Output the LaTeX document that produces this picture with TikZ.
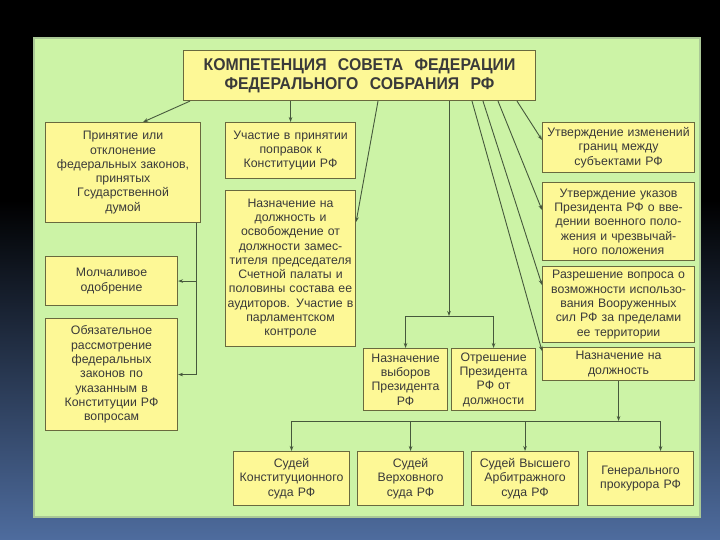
\documentclass[tikz,border=0pt]{standalone}
\usepackage{fontspec}
\setmainfont{Liberation Sans}
\newfontfamily\titlefont[FakeStretch=0.93]{Liberation Sans}
\usetikzlibrary{arrows.meta}
\definecolor{panel}{RGB}{204,243,166}
\definecolor{paneledge}{RGB}{170,200,150}
\definecolor{boxfill}{RGB}{253,248,150}
\definecolor{boxedge}{RGB}{105,105,62}
\definecolor{wire}{RGB}{70,88,60}
\definecolor{ink}{RGB}{58,58,58}
\definecolor{bgblue}{RGB}{78,108,158}
\tikzset{
  box/.style={draw=boxedge, fill=boxfill, line width=1.1pt, inner xsep=0pt, inner ysep=2pt,
    align=center, anchor=north west, text=ink, font=\fontsize{12.3}{14.3}\selectfont},
  arr/.style={draw=wire, line width=0.9pt, -{Stealth[length=5pt,width=3.6pt]}},
  ln/.style={draw=wire, line width=0.9pt}
}
\newcommand\mybox[6]{\node[box, minimum width=#4pt, minimum height=#5pt, text width=#4pt] (#1) at (#2,#3) {#6};}
\begin{document}
\begin{tikzpicture}[x=1pt,y=-1pt]
\useasboundingbox (0,0) rectangle (720,540);
\fill[black] (0,0) rectangle (720,540);
\shade[top color=black, bottom color=bgblue] (0,200) rectangle (720,540);
\fill[panel, draw=paneledge, line width=1.5pt] (34,38) rectangle (700,517);

\node[box, minimum width=352pt, minimum height=50pt, text width=352pt, font=\titlefont\fontsize{17}{18.5}\selectfont\bfseries] (title) at (183,50)
  {КОМПЕТЕНЦИЯ\ \ СОВЕТА\ \ ФЕДЕРАЦИИ\\ФЕДЕРАЛЬНОГО\ \ СОБРАНИЯ\ \ РФ};

\mybox{L1}{45}{122}{155}{100}{Принятие или\\отклонение\\федеральных законов,\\принятых\\Гсударственной\\думой}
\mybox{L2}{45}{256}{132}{49}{Молчаливое\\одобрение}
\mybox{L3}{45}{318}{132}{112}{Обязательное\\рассмотрение\\федеральных\\законов по\\указанным в\\Конституции РФ\\вопросам}

\mybox{M1}{225}{122}{130}{56}{Участие в принятии\\поправок к\\Конституции РФ}
\mybox{M2}{225}{190}{130}{156}{Назначение на\\должность и\\освобождение от\\должности замес-\\тителя председателя\\Счетной палаты и\\половины состава ее\\аудиторов. Участие в\\парламентском\\контроле}

\mybox{C1}{363}{348}{84}{62}{Назначение\\выборов\\Президента\\РФ}
\mybox{C2}{451}{348}{84}{62}{Отрешение\\Президента\\РФ от\\должности}

\mybox{R1}{542}{122}{152}{50}{Утверждение изменений\\границ между\\субъектами РФ}
\mybox{R2}{542}{182}{152}{78}{Утверждение указов\\Президента РФ о вве-\\дении военного поло-\\жения и чрезвычай-\\ного положения}
\mybox{R3}{542}{266}{152}{76}{Разрешение вопроса о\\возможности использо-\\вания Вооруженных\\сил РФ за пределами\\ее территории}
\mybox{R4}{542}{347}{152}{33}{Назначение на\\должность}

\mybox{B1}{233}{451}{116}{54}{Судей\\Конституционного\\суда РФ}
\mybox{B2}{357}{451}{106}{54}{Судей\\Верховного\\суда РФ}
\mybox{B3}{471}{451}{107}{54}{Судей Высшего\\Арбитражного\\суда РФ}
\mybox{B4}{587}{451}{106}{54}{Генерального\\прокурора РФ}

% title -> left and middle
\draw[arr] ([xshift=7pt]title.south west) -- ([xshift=-58pt]L1.north east);
\draw[arr] (title.south -| M1.north) -- (M1.north);
\draw[arr] ([xshift=195pt]title.south west) -- ([yshift=-32pt]M2.north east);

% L1 branches
\coordinate (jL) at ([xshift=-5pt]L1.south east);
\draw[ln] (jL) -- (jL |- L3.east);
\draw[arr] (jL |- L2.east) -- (L2.east);
\draw[arr] (jL |- L3.east) -- (L3.east);

% center
\coordinate (tc) at ([xshift=266pt]title.south west);
\coordinate (j1) at (449,316);
\draw[arr] (tc) -- (j1);
\draw[arr] (j1) -| (C1.north);
\draw[arr] (j1) -| (C2.north);

% title -> right column
\draw[arr] ([xshift=334pt]title.south west) -- ([yshift=-18pt]R1.north west);
\draw[arr] ([xshift=315pt]title.south west) -- ([yshift=-28pt]R2.north west);
\draw[arr] ([xshift=300pt]title.south west) -- ([yshift=-19pt]R3.north west);
\draw[arr] ([xshift=289pt]title.south west) -- ([yshift=-4pt]R4.north west);

% R4 -> bottom row
\coordinate (j3) at (R4.south |- 0,421);
\coordinate (b4top) at ([xshift=20pt]B4.north);
\draw[arr] (R4.south) -- (j3);
\draw[ln] (B1.north |- j3) -- (b4top |- j3);
\draw[arr] (B1.north |- j3) -- (B1.north);
\draw[arr] (B2.north |- j3) -- (B2.north);
\draw[arr] (B3.north |- j3) -- (B3.north);
\draw[arr] (b4top |- j3) -- (b4top);
\end{tikzpicture}
\end{document}
